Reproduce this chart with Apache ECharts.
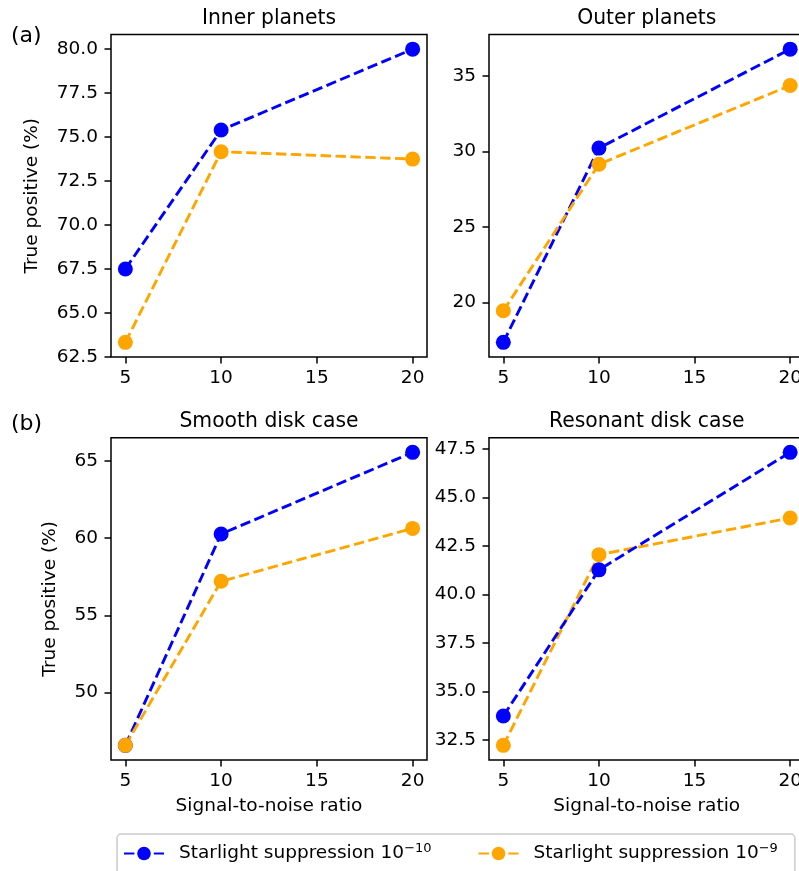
<!DOCTYPE html>
<html>
<head>
<meta charset="utf-8">
<script src="https://cdn.jsdelivr.net/npm/echarts@6/dist/echarts.min.js"></script>
<style>
  html, body { margin: 0; padding: 0; background: #fff; overflow: hidden; }
  #chart { width: 820px; height: 871px; }
</style>
</head>
<body>
<div id="chart"></div>
<script>
// Signal-to-noise ratios probed
const snr = [5, 10, 20];
const snrTicks = [5, 10, 15, 20];

// True positive rate (%) for each case, starlight suppression 1e-10 and 1e-9
const innerS10 = [67.5, 75.4, 80.0];
const innerS9 = [63.33, 74.17, 73.75];
const outerS10 = [17.35, 30.23, 36.79];
const outerS9 = [19.44, 29.16, 34.38];
const smoothS10 = [46.59, 60.26, 65.54];
const smoothS9 = [46.59, 57.2, 60.62];
const resonantS10 = [33.74, 41.27, 47.32];
const resonantS9 = [32.23, 42.05, 43.94];

// Tick labels on each y axis
const innerTicks = [62.5, 65, 67.5, 70, 72.5, 75, 77.5, 80];
const outerTicks = [20, 25, 30, 35];
const smoothTicks = [50, 55, 60, 65];
const resonantTicks = [32.5, 35, 37.5, 40, 42.5, 45, 47.5];

const panelTitles = ['Inner planets', 'Outer planets', 'Smooth disk case', 'Resonant disk case'];
const seriesNames = ['Starlight suppression 10^-10', 'Starlight suppression 10^-9'];
const seriesExp = ['\u221210', '\u22129'];
const colors = ['#0000ff', '#ffa500'];

const FONT = 'DejaVu Sans';
const TICK_FS = 18.5;

// Axis limits with a 5% margin around the data
function dataRange(a, b) {
  const lo = Math.min(...a, ...b), hi = Math.max(...a, ...b);
  const m = (hi - lo) * 0.05;
  return { min: lo - m, max: hi + m };
}
function xRange() {
  const lo = Math.min(...snr), hi = Math.max(...snr);
  const m = (hi - lo) * 0.05;
  return { min: lo - m, max: hi + m };
}

const grids = [
  { left: 111, top: 34.5, width: 316, height: 322.5 },
  { left: 489, top: 34.5, width: 315.5, height: 322.5 },
  { left: 111, top: 437.7, width: 316, height: 322.3 },
  { left: 489, top: 437.7, width: 315.5, height: 322.3 }
];

const panels = [
  { s10: innerS10, s9: innerS9, ticks: innerTicks, dec: 1, yName: true, nameGap: 69, xName: false },
  { s10: outerS10, s9: outerS9, ticks: outerTicks, dec: 0, yName: false, xName: false },
  { s10: smoothS10, s9: smoothS9, ticks: smoothTicks, dec: 0, yName: true, nameGap: 51, xName: true },
  { s10: resonantS10, s9: resonantS9, ticks: resonantTicks, dec: 1, yName: false, xName: true, orangeFirst: true }
];

const tickStyle = { show: true, length: 6.5, lineStyle: { color: '#000', width: 1.5 } };
const labelStyle = { color: '#000', fontFamily: FONT, fontSize: TICK_FS };

const xAxes = panels.map((p, i) => {
  const r = xRange();
  return {
    type: 'value', gridIndex: i, min: r.min, max: r.max,
    splitLine: { show: false },
    axisLine: { show: false },
    axisTick: Object.assign({ customValues: snrTicks }, tickStyle),
    axisLabel: Object.assign({ customValues: snrTicks, margin: 12 }, labelStyle),
    name: p.xName ? 'Signal-to-noise ratio' : '',
    nameLocation: 'middle', nameGap: 37,
    nameTextStyle: { color: '#000', fontFamily: FONT, fontSize: TICK_FS }
  };
});

const yAxes = panels.map((p, i) => {
  const r = dataRange(p.s10, p.s9);
  return {
    type: 'value', gridIndex: i, min: r.min, max: r.max,
    splitLine: { show: false },
    axisLine: { show: false },
    axisTick: Object.assign({ customValues: p.ticks }, tickStyle),
    axisLabel: Object.assign({
      customValues: p.ticks, margin: 13,
      formatter: v => v.toFixed(p.dec)
    }, labelStyle),
    name: p.yName ? 'True positive (%)' : '',
    nameLocation: 'middle', nameGap: p.nameGap || 50,
    nameTextStyle: { color: '#000', fontFamily: FONT, fontSize: TICK_FS }
  };
});

function lineSeries(name, color, values, idx) {
  return {
    name, type: 'line', xAxisIndex: idx, yAxisIndex: idx,
    data: snr.map((x, k) => [x, values[k]]),
    symbol: 'circle', symbolSize: 15,
    itemStyle: { color },
    lineStyle: { color, width: 2.9, type: [10.4, 4.5] },
    emphasis: { disabled: true },
    animation: false
  };
}

const series = [];
panels.forEach((p, i) => {
  const blue = lineSeries(seriesNames[0], colors[0], p.s10, i);
  const orange = lineSeries(seriesNames[1], colors[1], p.s9, i);
  if (p.orangeFirst) series.push(orange, blue); else series.push(blue, orange);
});

const titles = panels.map((p, i) => ({
  text: panelTitles[i],
  left: grids[i].left + grids[i].width / 2,
  top: grids[i].top - 26,
  textAlign: 'center',
  padding: 0,
  textStyle: { color: '#000', fontFamily: FONT, fontSize: 20.35, fontWeight: 'normal' }
}));
titles.push(
  { text: '(a)', left: 11, top: 25, padding: 0,
    textStyle: { color: '#000', fontFamily: FONT, fontSize: 22, fontWeight: 'normal' } },
  { text: '(b)', left: 11, top: 413, padding: 0,
    textStyle: { color: '#000', fontFamily: FONT, fontSize: 22, fontWeight: 'normal' } }
);

const option = {
  backgroundColor: '#fff',
  animation: false,
  title: titles,
  grid: grids.map(g => Object.assign({ show: true, borderColor: '#000', borderWidth: 1.5, backgroundColor: 'transparent' }, g)),
  xAxis: xAxes,
  yAxis: yAxes,
  legend: {
    data: seriesNames,
    left: 117, top: 834,
    orient: 'horizontal',
    itemWidth: 40, itemHeight: 17,
    itemGap: 46,
    padding: [8, 17, 20, 6],
    borderColor: '#cccccc', borderWidth: 1.5, borderRadius: 4,
    backgroundColor: '#fff',
    selectedMode: false,
    formatter: name => '{t|Starlight suppression 10}{s|' + seriesExp[seriesNames.indexOf(name)] + '}',
    textStyle: {
      padding: [0, 0, 0, 10],
      rich: {
        t: { color: '#000', fontFamily: FONT, fontSize: TICK_FS },
        s: { color: '#000', fontFamily: FONT, fontSize: 13, padding: [0, 0, 10, 0] }
      }
    }
  },
  series
};

const chart = echarts.init(document.getElementById('chart'), null, { renderer: 'canvas' });
chart.setOption(option);
</script>
</body>
</html>
